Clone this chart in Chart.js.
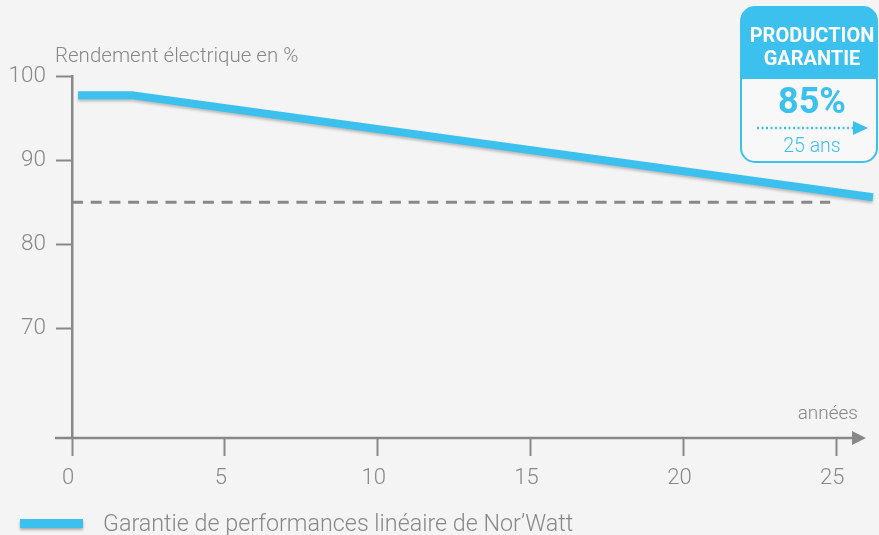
<!DOCTYPE html>
<html>
<head>
<meta charset="utf-8">
<script src="https://cdn.jsdelivr.net/npm/chart.js@4"></script>
<style>
  body { margin: 0; background: #f4f4f4; }
  #wrap { width: 879px; height: 535px; }
</style>
</head>
<body>
<div id="wrap"><canvas id="myChart"></canvas></div>
<script>
// données
const annees = [0.2, 2, 26.2];
const rendement = [97.7, 97.7, 85.6];
const garantieAnnees = [0, 24.8];
const garantieValeurs = [85, 85];
const xTicks = [0, 5, 10, 15, 20, 25];
const yTicks = [70, 80, 90, 100];
const libelle = "Garantie de performances linéaire de Nor’Watt";

const bleu = "#3cc1ef";
const gris = "#888888";
const police = "Roboto";

var pointsRendement = [];
for (let i = 0; i < annees.length; i++) {
  pointsRendement[i] = { x: annees[i], y: rendement[i] };
}
var pointsGarantie = [];
for (let i = 0; i < garantieAnnees.length; i++) {
  pointsGarantie[i] = { x: garantieAnnees[i], y: garantieValeurs[i] };
}

const decor = {
  id: "decor",
  beforeDatasetDraw(chart, args) {
    if (args.index === 0) {
      const c = chart.ctx;
      c.save();
      c.shadowColor = "rgba(0,0,0,0.25)";
      c.shadowBlur = 3;
      c.shadowOffsetY = 2;
    }
  },
  afterDatasetDraw(chart, args) {
    if (args.index === 0) chart.ctx.restore();
  },
  afterDraw(chart) {
    const c = chart.ctx;
    const area = chart.chartArea;
    const y0 = area.bottom;

    // axe des x avec flèche
    c.save();
    c.strokeStyle = gris;
    c.fillStyle = gris;
    c.lineWidth = 2.5;
    c.beginPath();
    c.moveTo(55, y0);
    c.lineTo(area.right - 22, y0);
    c.stroke();
    c.beginPath();
    c.moveTo(area.right - 24, y0 - 7);
    c.lineTo(area.right - 10, y0);
    c.lineTo(area.right - 24, y0 + 7);
    c.closePath();
    c.fill();

    // titres
    c.font = "300 20.5px " + police;
    c.textBaseline = "middle";
    c.textAlign = "left";
    c.fillText("Rendement électrique en %", 55, 57);
    c.font = "300 19px " + police;
    c.textAlign = "right";
    c.fillText("années", 858, 414);

    // légende
    c.save();
    c.shadowColor = "rgba(0,0,0,0.3)";
    c.shadowBlur = 3;
    c.shadowOffsetY = 2;
    c.fillStyle = bleu;
    c.fillRect(20, 519, 63, 9);
    c.restore();
    c.fillStyle = gris;
    c.textAlign = "left";
    c.font = "300 23.3px " + police;
    c.fillText(libelle, 103, 525);

    // encadré production garantie
    const bx = 741, by = 7, bw = 136, bh = 155, r = 14;
    c.beginPath();
    c.roundRect(bx, by, bw, bh, r);
    c.fillStyle = "#f8f8f8";
    c.fill();
    c.save();
    c.clip();
    c.fillStyle = bleu;
    c.fillRect(bx, by, bw, 72);
    c.restore();
    c.beginPath();
    c.roundRect(bx, by, bw, bh, r);
    c.strokeStyle = bleu;
    c.lineWidth = 2;
    c.stroke();

    c.textAlign = "center";
    c.fillStyle = "#ffffff";
    c.font = "bold 20px " + police;
    c.fillText("PRODUCTION", 812, 37);
    c.fillText("GARANTIE", 812, 60);
    c.fillStyle = bleu;
    c.font = "bold 36px " + police;
    c.fillText("85%", 812, 104);
    c.font = "300 19.5px " + police;
    c.fillText("25 ans", 812, 147);

    c.strokeStyle = bleu;
    c.lineWidth = 2.5;
    c.setLineDash([2, 2.5]);
    c.beginPath();
    c.moveTo(757, 128);
    c.lineTo(853, 128);
    c.stroke();
    c.setLineDash([]);
    c.beginPath();
    c.moveTo(853, 121);
    c.lineTo(868, 128);
    c.lineTo(853, 135);
    c.closePath();
    c.fill();
    c.restore();
  }
};

const ctx = document.getElementById("myChart");
Chart.defaults.font.family = police;

new Chart(ctx, {
  type: "line",
  data: {
    datasets: [
      {
        label: libelle,
        data: pointsRendement,
        borderColor: bleu,
        borderWidth: 8,
        pointRadius: 0,
        tension: 0,
        borderJoinStyle: "round",
        clip: false,
      },
      {
        label: "85 %",
        data: pointsGarantie,
        borderColor: gris,
        borderWidth: 3,
        borderDash: [11, 7.7],
        pointRadius: 0,
        tension: 0,
      },
    ],
  },
  options: {
    responsive: true,
    maintainAspectRatio: false,
    animation: false,
    layout: { padding: { top: 76, right: 3, left: 0, bottom: 0 } },
    plugins: {
      legend: { display: false },
      tooltip: { enabled: false },
    },
    scales: {
      x: {
        type: "linear",
        min: 0,
        max: 26.3,
        afterBuildTicks: (s) => { s.ticks = xTicks.map((v) => ({ value: v })); },
        afterFit: (s) => { s.height = 97; },
        grid: {
          drawOnChartArea: false,
          tickLength: 18,
          tickColor: gris,
          tickWidth: 2,
        },
        border: { display: false },
        ticks: {
          color: gris,
          font: { size: 22, weight: 300 },
          padding: 9,
          labelOffset: -4,
          maxRotation: 0,
        },
      },
      y: {
        min: 57,
        max: 100,
        afterBuildTicks: (s) => { s.ticks = yTicks.map((v) => ({ value: v })); },
        afterFit: (s) => { s.width = 72; },
        grid: {
          drawOnChartArea: false,
          tickLength: 16,
          tickColor: gris,
          tickWidth: 2,
        },
        border: { display: true, color: gris, width: 2.5 },
        ticks: {
          color: gris,
          font: { size: 22.5, weight: 300 },
          padding: 10,
        },
      },
    },
  },
  plugins: [decor],
});
</script>
</body>
</html>
